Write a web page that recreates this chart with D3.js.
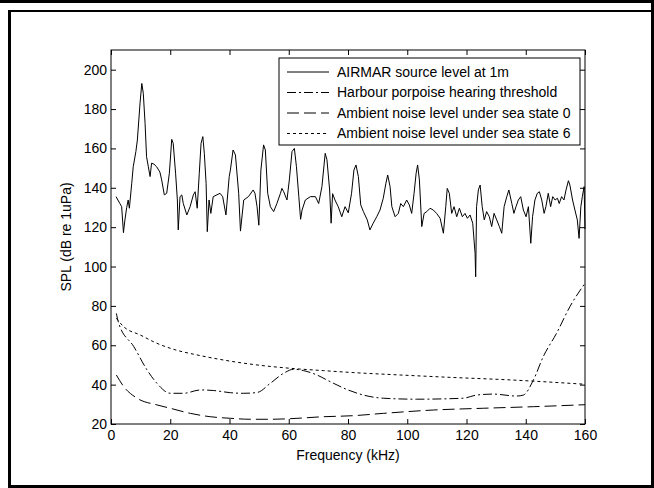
<!DOCTYPE html>
<html>
<head>
<meta charset="utf-8">
<script src="https://cdn.jsdelivr.net/npm/d3@7"></script>
<style>
  body { margin: 0; background: #fff; }
  text { font-family: "Liberation Sans", Arial, sans-serif; fill: #000; }
</style>
</head>
<body>
<div id="chart"></div>
<script>
// data (kHz, dB)
const airmarFreq = [1.7, 3.0, 3.6, 4.2, 4.7, 5.3, 5.8, 6.2, 7.0, 7.5, 8.4, 8.9, 9.8, 10.4, 10.9, 11.5, 12.0, 12.6, 13.2, 13.7, 14.5, 15.4, 16.5, 17.1, 18.0, 18.8, 19.7, 20.5, 21.0, 21.8, 22.4, 22.7, 23.3, 23.9, 24.4, 25.6, 26.7, 27.8, 28.4, 29.1, 29.8, 30.4, 31.0, 31.5, 32.1, 32.5, 33.1, 33.7, 34.5, 36.8, 37.7, 38.8, 39.9, 40.3, 41.2, 42.0, 43.1, 43.7, 44.8, 46.4, 48.0, 48.6, 49.3, 49.9, 50.6, 51.5, 52.1, 52.9, 53.8, 54.9, 56.0, 57.2, 57.7, 58.3, 59.4, 60.2, 61.1, 61.9, 62.6, 63.4, 64.0, 64.5, 65.6, 67.3, 69.0, 70.1, 71.2, 72.3, 72.9, 73.8, 74.3, 74.8, 75.6, 76.7, 77.9, 79.0, 80.1, 81.2, 82.0, 82.7, 83.5, 84.3, 85.2, 86.5, 87.4, 88.5, 89.7, 90.8, 91.9, 92.8, 93.4, 94.2, 94.8, 95.9, 97.0, 97.8, 98.7, 99.8, 100.7, 101.5, 102.3, 103.0, 103.5, 104.1, 104.9, 105.7, 106.6, 107.7, 108.8, 109.9, 111.1, 112.2, 113.0, 113.5, 114.2, 115.0, 115.8, 116.7, 117.6, 118.6, 119.5, 120.3, 121.2, 122.1, 122.9, 123.1, 123.4, 124.0, 124.6, 125.3, 126.0, 126.8, 127.7, 128.5, 129.3, 130.2, 131.1, 131.9, 132.7, 133.6, 134.3, 135.3, 136.0, 136.7, 137.5, 138.3, 139.2, 140.1, 140.9, 141.7, 142.3, 143.1, 143.9, 144.6, 145.4, 146.2, 146.8, 147.6, 148.4, 149.1, 149.9, 150.7, 151.3, 152.1, 152.9, 153.6, 154.4, 154.9, 155.8, 156.6, 157.4, 158.0, 158.6, 159.1, 159.7, 160.0];
const airmarLevel = [135.5, 132, 130.4, 117.2, 123.7, 130, 133.8, 129.6, 142.3, 150.7, 158.4, 164.3, 183, 193, 188, 172.8, 155.8, 150.7, 145.7, 152.5, 152, 150.7, 148, 144, 136.4, 137.2, 147.4, 164.6, 162.6, 147.4, 133.8, 118.6, 135.5, 136.4, 132, 126.2, 130.4, 136.4, 138, 129.6, 147.4, 162.6, 166, 157.5, 142.3, 117.7, 133.8, 127, 135.5, 137.2, 135.5, 126.2, 145.7, 149, 159.2, 156.7, 137.2, 118, 133.8, 135.5, 138.9, 137.2, 130.4, 121, 149, 161.8, 159.2, 137.2, 130.4, 127.9, 132, 137.2, 139.7, 138, 133.8, 144, 158.4, 160, 150.7, 135.5, 124, 128.7, 133.8, 135.5, 135.5, 132, 140.6, 157.5, 154.2, 138.9, 122, 137, 133.8, 130.4, 125.3, 130.4, 127.3, 137.2, 149, 151.6, 145.7, 131.3, 127.9, 123.7, 118.6, 122, 125.3, 128.7, 134.7, 142.3, 146.5, 140.6, 130.4, 125.3, 127, 132, 130.4, 133.8, 131.3, 127, 137.2, 147.4, 151.6, 144, 120.3, 127, 127.9, 129.6, 128.7, 127, 124.5, 116.9, 130.4, 139.7, 137.2, 127, 130.4, 125.3, 129.6, 125.3, 127, 124.5, 126.2, 122, 106.7, 94.8, 130.4, 138.9, 141.4, 130.4, 123.7, 127.9, 125.3, 120.3, 127, 123.7, 120.3, 116.9, 130.4, 135.5, 138.9, 132, 127, 130.4, 133.8, 135.5, 128.7, 125.3, 130.4, 111.8, 125.3, 133.8, 137.2, 138, 133.8, 127, 130.4, 137.2, 130.4, 135.5, 133.8, 134.7, 132, 135.5, 133.8, 138.9, 143.6, 141.4, 133.8, 128.7, 123.7, 114.3, 130.4, 135.5, 140.6, 119];

const porpoiseFreq = [1.8, 2.6, 7.7, 12.2, 15.5, 20.0, 24.5, 30.2, 34.7, 40.3, 44.8, 49.3, 53.8, 58.3, 61.7, 65.0, 69.5, 74.0, 79.7, 85.2, 91.9, 103.2, 118.9, 123.4, 129.0, 136.9, 139.2, 142.6, 145.9, 150.4, 154.9, 160.0];
const porpoiseLevel = [76.2, 71.2, 59.3, 47.4, 40.7, 35.6, 35.6, 37.3, 37.0, 35.9, 35.6, 36.0, 40.7, 45.8, 47.8, 47.1, 44.9, 41.5, 37.5, 34.7, 33.1, 32.6, 33.1, 34.7, 35.2, 34.2, 34.7, 42.4, 54.2, 66.1, 79.6, 91.5];

const seaState0Freq = [1.8, 4.3, 8.8, 15.5, 20.0, 26.8, 33.5, 40.3, 47.0, 53.8, 60.5, 71.8, 81.5, 91.9, 108.8, 125.7, 142.6, 160.0];
const seaState0Level = [44.9, 39.0, 33.1, 29.7, 28.0, 25.4, 23.7, 22.9, 22.4, 22.4, 22.7, 23.7, 24.2, 25.4, 27.1, 28.0, 28.8, 29.8];

const seaState6Freq = [1.8, 4.3, 9.9, 15.5, 21.2, 29.0, 38.0, 49.3, 60.5, 71.8, 82.0, 97.6, 114.4, 134.7, 160.0];
const seaState6Level = [73.7, 69.4, 65.2, 61.0, 57.9, 55.1, 52.5, 50.0, 48.3, 47.1, 46.1, 44.9, 43.7, 42.4, 40.2];

const xTicks = [0, 20, 40, 60, 80, 100, 120, 140, 160];
const yTicks = [20, 40, 60, 80, 100, 120, 140, 160, 180, 200];

const seriesNames = [
  "AIRMAR source level at 1m",
  "Harbour porpoise hearing threshold",
  "Ambient noise level under sea state 0",
  "Ambient noise level under sea state 6"
];
const seriesDash = [null, "9,3,2,3", "12,5", "3,3"];

const width = 654;
const height = 488;
const margin = { left: 111, right: 69, top: 50, bottom: 64 };
const fontSize = 14;

const svg = d3.select("#chart")
  .append("svg")
  .attr("width", width)
  .attr("height", height);

// figure frame
svg.append("rect").attr("x", 0).attr("y", 0).attr("width", width).attr("height", 3).attr("fill", "#000");
svg.append("rect").attr("x", 8).attr("y", 10).attr("width", 3).attr("height", height - 10).attr("fill", "#000");
svg.append("rect").attr("x", 8).attr("y", 10).attr("width", width - 8).attr("height", 2).attr("fill", "#000");
svg.append("rect").attr("x", width - 3).attr("y", 0).attr("width", 3).attr("height", height).attr("fill", "#000");
svg.append("rect").attr("x", 8).attr("y", height - 3).attr("width", width - 8).attr("height", 3).attr("fill", "#000");

const x = d3.scaleLinear().domain([0, 160]).range([margin.left, width - margin.right]);
const y = d3.scaleLinear().domain([20, 210]).range([height - margin.bottom, margin.top]);

const zip = (fs, vs) => fs.map((f, i) => [f, vs[i]]);
const series = [
  zip(airmarFreq, airmarLevel),
  zip(porpoiseFreq, porpoiseLevel),
  zip(seaState0Freq, seaState0Level),
  zip(seaState6Freq, seaState6Level)
];

const line = d3.line().x((d) => x(d[0])).y((d) => y(d[1]));
const curved = d3.line().x((d) => x(d[0])).y((d) => y(d[1])).curve(d3.curveMonotoneX);

svg.append("g")
  .selectAll("path")
  .data(series)
  .join("path")
  .attr("d", (d, i) => (i === 0 ? line(d) : curved(d)))
  .attr("fill", "none")
  .attr("stroke", "#000")
  .attr("stroke-width", 1)
  .attr("stroke-dasharray", (d, i) => seriesDash[i]);

// axes (MATLAB style box with inward ticks)
const tick = 5;
svg.append("g")
  .attr("transform", "translate(0," + y(20) + ")")
  .call(d3.axisBottom(x).tickValues(xTicks).tickSizeInner(-tick).tickSizeOuter(0).tickPadding(6))
  .call((g) => g.selectAll("text").attr("font-size", fontSize));
svg.append("g")
  .attr("transform", "translate(0," + margin.top + ")")
  .call(d3.axisTop(x).tickValues(xTicks).tickSizeInner(-tick).tickSizeOuter(0).tickFormat(""));
svg.append("g")
  .attr("transform", "translate(" + margin.left + ",0)")
  .call(d3.axisLeft(y).tickValues(yTicks).tickSizeInner(-tick).tickSizeOuter(0).tickPadding(4))
  .call((g) => g.selectAll("text").attr("font-size", fontSize));
svg.append("g")
  .attr("transform", "translate(" + (width - margin.right) + ",0)")
  .call(d3.axisRight(y).tickValues(yTicks).tickSizeInner(-tick).tickSizeOuter(0).tickFormat(""));

svg.selectAll(".domain").remove();
svg.append("rect")
  .attr("x", margin.left)
  .attr("y", margin.top)
  .attr("width", width - margin.left - margin.right)
  .attr("height", height - margin.top - margin.bottom)
  .attr("fill", "none")
  .attr("stroke", "#000");

// labels
svg.append("text")
  .attr("x", (margin.left + width - margin.right) / 2)
  .attr("y", 460)
  .attr("text-anchor", "middle")
  .attr("font-size", fontSize)
  .text("Frequency (kHz)");
svg.append("text")
  .attr("transform", "translate(71," + (margin.top + height - margin.bottom) / 2 + ") rotate(-90)")
  .attr("text-anchor", "middle")
  .attr("font-size", fontSize)
  .text("SPL (dB re 1uPa)");

// legend
const legend = svg.append("g").attr("transform", "translate(279,58)");
legend.append("rect")
  .attr("width", 301)
  .attr("height", 87)
  .attr("fill", "#fff")
  .attr("stroke", "#000");
const rows = legend.selectAll("g")
  .data(seriesNames)
  .join("g")
  .attr("transform", (d, i) => "translate(0," + (14 + i * 20.5) + ")");
rows.append("line")
  .attr("x1", 8)
  .attr("x2", 50)
  .attr("stroke", "#000")
  .attr("stroke-dasharray", (d, i) => seriesDash[i]);
rows.append("text")
  .attr("x", 58)
  .attr("dy", "0.35em")
  .attr("font-size", fontSize)
  .text((d) => d);
</script>
</body>
</html>
